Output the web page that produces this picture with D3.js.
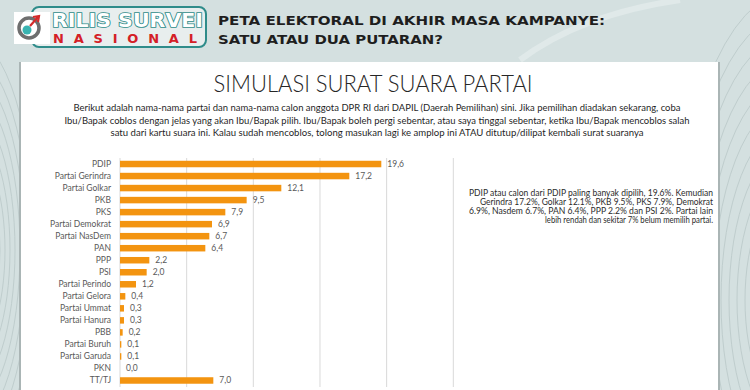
<!DOCTYPE html>
<html>
<head>
<meta charset="utf-8">
<script src="https://cdn.jsdelivr.net/npm/d3@7"></script>
<style>
  html, body { margin: 0; padding: 0; background: #d4e0e0; }
  svg { display: block; }
</style>
</head>
<body>
<div id="chart"></div>
<script>
// survey values
var parties = ["PDIP", "Partai Gerindra", "Partai Golkar", "PKB", "PKS", "Partai Demokrat",
  "Partai NasDem", "PAN", "PPP", "PSI", "Partai Perindo", "Partai Gelora", "Partai Ummat",
  "Partai Hanura", "PBB", "Partai Buruh", "Partai Garuda", "PKN", "TT/TJ"];
var votes = [19.6, 17.2, 12.1, 9.5, 7.9, 6.9, 6.7, 6.4, 2.2, 2.0, 1.2, 0.4, 0.3, 0.3, 0.2, 0.1, 0.1, 0.0, 7.0];
var gridTicks = [0, 5, 10, 15, 20, 25];

var headerLines = ["PETA ELEKTORAL DI AKHIR MASA KAMPANYE:", "SATU ATAU DUA PUTARAN?"];
var chartTitle = "SIMULASI SURAT SUARA PARTAI";
var introLines = [
  "Berikut adalah nama-nama partai dan nama-nama calon anggota DPR RI dari DAPIL (Daerah Pemilihan) sini. Jika pemilihan diadakan sekarang, coba",
  "Ibu/Bapak coblos dengan jelas yang akan Ibu/Bapak pilih. Ibu/Bapak boleh pergi sebentar, atau saya tinggal sebentar, ketika Ibu/Bapak mencoblos salah",
  "satu dari kartu suara ini. Kalau sudah mencoblos, tolong masukan lagi ke amplop ini ATAU ditutup/dilipat kembali surat suaranya"
];
var noteLines = [
  "PDIP atau calon dari PDIP paling banyak dipilih, 19.6%. Kemudian",
  "Gerindra 17.2%, Golkar 12.1%, PKB 9.5%, PKS 7.9%, Demokrat",
  "6.9%, Nasdem 6.7%, PAN 6.4%, PPP 2.2% dan PSI 2%. Partai lain",
  "lebih rendah dan sekitar 7% belum memilih partai."
];

function Slide(opts) {
    var self = this;
    if (!(this instanceof Slide)) return new Slide(opts);
    if (!opts) opts = {};

    self.width = opts.width || 750;
    self.height = opts.height || 390;
    self.font = "Lato, 'Open Sans', sans-serif";

    self.svg = d3.select("#chart").append("svg")
      .attr("width", self.width)
      .attr("height", self.height);

    // bar chart area
    self.x = d3.scaleLinear().domain([0, 25]).range([120, 453.3]);
    self.y = d3.scaleBand().domain(parties).range([158, 386.5]).paddingInner(0.46).paddingOuter(0.23);
}

/**
 * background with faint swirl lines
 */
Slide.prototype.background = function() {
    var self = this;
    self.svg.append("rect")
      .attr("width", self.width).attr("height", self.height)
      .attr("fill", "#d4e0e0");

    var swirl = self.svg.append("g").attr("fill", "none").attr("stroke", "#bfcdcd").attr("stroke-width", 1);
    d3.range(10).forEach(function(i) {
        swirl.append("ellipse")
          .attr("cx", -30).attr("cy", 250)
          .attr("rx", 20 + i * 5).attr("ry", 50 + i * 18);
        swirl.append("ellipse")
          .attr("cx", 790).attr("cy", 300)
          .attr("rx", 45 + i * 8).attr("ry", 110 + i * 22);
    });
    self.svg.append("path")
      .attr("d", "M520,60 C560,30 610,10 680,0")
      .attr("fill", "none").attr("stroke", "#e0e9e9").attr("stroke-width", 6);
}

/**
 * logo and headline at the top
 */
Slide.prototype.header = function() {
    var self = this;
    var g = self.svg.append("g");

    g.append("rect")
      .attr("x", 32).attr("y", 7).attr("width", 174).attr("height", 40).attr("rx", 7)
      .attr("fill", "#e8eeee").attr("stroke", "#2f8c8a").attr("stroke-width", 2);
    g.append("rect")
      .attr("x", 14).attr("y", 12).attr("width", 36).attr("height", 32)
      .attr("fill", "#ffffff");

    // target icon
    g.append("circle").attr("cx", 29).attr("cy", 28).attr("r", 10)
      .attr("fill", "none").attr("stroke", "#6e6e6e").attr("stroke-width", 3.5);
    g.append("circle").attr("cx", 27).attr("cy", 30).attr("r", 4.5).attr("fill", "#39b3b0");
    g.append("path").attr("d", "M30,26 L38,17 M33,17 L39,16 L38,22")
      .attr("fill", "none").attr("stroke", "#d42a2a").attr("stroke-width", 2.2);

    g.append("text")
      .attr("x", 52).attr("y", 27)
      .attr("textLength", 151).attr("lengthAdjust", "spacingAndGlyphs")
      .attr("font-family", "'DejaVu Sans Condensed', 'DejaVu Sans', sans-serif")
      .attr("font-weight", "bold").attr("font-size", 20)
      .attr("fill", "#ffffff").attr("stroke", "#2f8c8a").attr("stroke-width", 1.6)
      .attr("paint-order", "stroke")
      .text("RILIS SURVEI");
    g.append("text")
      .attr("x", 53).attr("y", 43)
      .attr("textLength", 144).attr("lengthAdjust", "spacing")
      .attr("font-family", "'DejaVu Sans', sans-serif")
      .attr("font-weight", "bold").attr("font-size", 13)
      .attr("fill", "#d42027")
      .text("NASIONAL");

    g.selectAll("text.headline").data(headerLines).enter().append("text")
      .attr("class", "headline")
      .attr("x", 218).attr("y", function(d, i) { return 25 + i * 19; })
      .attr("textLength", function(d, i) { return i === 0 ? 387 : 225; })
      .attr("lengthAdjust", "spacingAndGlyphs")
      .attr("font-family", "'DejaVu Sans', sans-serif")
      .attr("font-weight", "bold").attr("font-size", 13)
      .attr("fill", "#1e1e1e")
      .text(function(d) { return d; });
}

/**
 * white panel holding the chart
 */
Slide.prototype.panel = function() {
    var self = this;
    self.svg.append("rect")
      .attr("x", 19).attr("y", 62).attr("width", 701).attr("height", 340)
      .attr("fill", "#aab5b5");
    self.svg.append("rect")
      .attr("x", 21).attr("y", 62).attr("width", 697).attr("height", 340)
      .attr("fill", "#ffffff");

    self.svg.append("text")
      .attr("x", 373).attr("y", 92)
      .attr("text-anchor", "middle")
      .attr("textLength", 319).attr("lengthAdjust", "spacingAndGlyphs")
      .attr("font-family", self.font).attr("font-weight", 300).attr("font-size", 24)
      .attr("fill", "#262626")
      .text(chartTitle);

    var widths = [607, 625, 533];
    self.svg.selectAll("text.intro").data(introLines).enter().append("text")
      .attr("class", "intro")
      .attr("x", 377).attr("y", function(d, i) { return 111 + i * 12.5; })
      .attr("text-anchor", "middle")
      .attr("textLength", function(d, i) { return widths[i]; })
      .attr("lengthAdjust", "spacingAndGlyphs")
      .attr("font-family", self.font).attr("font-size", 10)
      .attr("fill", "#1f1f1f")
      .text(function(d) { return d; });
}

/**
 * horizontal bars with value labels
 */
Slide.prototype.bars = function() {
    var self = this;
    var fmt = d3.format(".1f");
    var rows = parties.map(function(p, i) { return { party: p, value: votes[i] }; });

    self.svg.append("g").selectAll("line").data(gridTicks).enter().append("line")
      .attr("x1", function(d) { return self.x(d); })
      .attr("x2", function(d) { return self.x(d); })
      .attr("y1", 158).attr("y2", 387)
      .attr("stroke", "#d9d9d9").attr("stroke-width", 1);

    self.svg.append("g").selectAll("rect").data(rows).enter().append("rect")
      .attr("x", self.x(0))
      .attr("y", function(d) { return self.y(d.party); })
      .attr("width", function(d) { return self.x(d.value) - self.x(0); })
      .attr("height", self.y.bandwidth())
      .attr("fill", "#f39410");

    self.svg.append("g").selectAll("text").data(rows).enter().append("text")
      .attr("x", 111)
      .attr("y", function(d) { return self.y(d.party) + self.y.bandwidth() / 2; })
      .attr("dy", "0.35em")
      .attr("text-anchor", "end")
      .attr("font-family", self.font).attr("font-size", 8.5)
      .attr("fill", "#595959")
      .text(function(d) { return d.party; });

    self.svg.append("g").selectAll("text").data(rows).enter().append("text")
      .attr("x", function(d) { return self.x(d.value) + 6; })
      .attr("y", function(d) { return self.y(d.party) + self.y.bandwidth() / 2; })
      .attr("dy", "0.35em")
      .attr("font-family", self.font).attr("font-size", 8.5)
      .attr("fill", "#595959")
      .text(function(d) { return fmt(d.value).replace(".", ","); });

    // summary note at the right
    var noteWidths = [244, 233, 244, 168];
    self.svg.selectAll("text.note").data(noteLines).enter().append("text")
      .attr("class", "note")
      .attr("x", 713).attr("y", function(d, i) { return 195.5 + i * 9.2; })
      .attr("text-anchor", "end")
      .attr("textLength", function(d, i) { return noteWidths[i]; })
      .attr("lengthAdjust", "spacingAndGlyphs")
      .attr("font-family", self.font).attr("font-size", 8.5)
      .attr("fill", "#2b2b2b")
      .text(function(d) { return d; });
}

var slide = new Slide({ width: 750, height: 390 });
slide.background();
slide.header();
slide.panel();
slide.bars();
</script>
</body>
</html>
